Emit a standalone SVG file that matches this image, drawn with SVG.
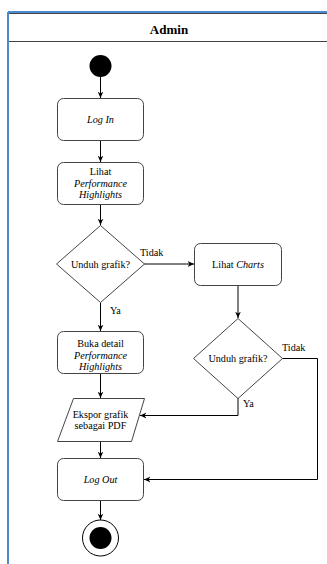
<svg xmlns="http://www.w3.org/2000/svg" width="327" height="564" viewBox="0 0 327 564">
  <defs>
    <marker id="arrow" viewBox="0 0 10 10" refX="9" refY="5" markerWidth="7" markerHeight="7" orient="auto" markerUnits="userSpaceOnUse">
      <path d="M0,1 L9,5 L0,9 L2.5,5 Z" fill="#000"/>
    </marker>
  </defs>
  <style>
    .it { font-style: italic; }
    .box { fill: #fff; stroke: #444; stroke-width: 1; }
    .edge { fill: none; stroke: #000; stroke-width: 1; marker-end: url(#arrow); }
  </style>
  <rect x="0" y="0" width="327" height="564" fill="#fff"/>

  <g font-family="Liberation Serif, Times New Roman, serif" font-size="10.2" fill="#000">
  <!-- swimlane -->
  <g id="lane">
    <rect x="8.5" y="13.5" width="330" height="560" fill="none" stroke="#444" stroke-width="1"/>
    <path d="M8,12 H327 M8,12 V564" fill="none" stroke="#4a8bd0" stroke-width="2"/>
    <line x1="9" y1="41.5" x2="327" y2="41.5" stroke="#444" stroke-width="1"/>
    <text x="169" y="34" text-anchor="middle" font-weight="bold" font-size="13">Admin</text>
  </g>

  <!-- connectors -->
  <g id="connectors">
    <path class="edge" d="M100.5,77 V98"/>
    <path class="edge" d="M100.5,140 V162"/>
    <path class="edge" d="M100.5,204 V225"/>
    <path class="edge" d="M144,264 H194"/>
    <path class="edge" d="M100.5,303 V331"/>
    <path class="edge" d="M238,285 V318"/>
    <path class="edge" d="M100.5,373 V398"/>
    <path class="edge" d="M238,398 V415.5 H140"/>
    <path class="edge" d="M282,358.5 H317.5 V479.5 H144"/>
    <path class="edge" d="M100.5,441 V458"/>
    <path class="edge" d="M100.5,500 V520"/>
    <text x="140" y="256">Tidak</text>
    <text x="110" y="314">Ya</text>
    <text x="282" y="351">Tidak</text>
    <text x="243" y="407">Ya</text>
  </g>

  <g id="start">
    <circle cx="100.5" cy="66" r="11" fill="#000"/>
  </g>

  <g id="login">
    <rect class="box" x="57.5" y="98.5" width="86" height="42" rx="6"/>
    <text class="it" x="100.5" y="123" text-anchor="middle">Log In</text>
  </g>

  <g id="lihat-highlights">
    <rect class="box" x="57.5" y="162.5" width="86" height="42" rx="6"/>
    <text x="100.5" y="175" text-anchor="middle">Lihat</text>
    <text class="it" x="100.5" y="186.5" text-anchor="middle">Performance</text>
    <text class="it" x="100.5" y="198" text-anchor="middle">Highlights</text>
  </g>

  <g id="decision1">
    <polygon class="box" points="100.5,225.5 144.5,264 100.5,302.5 56.5,264"/>
    <text x="100.5" y="268" text-anchor="middle">Unduh grafik?</text>
  </g>

  <g id="lihat-charts">
    <rect class="box" x="194.5" y="243.5" width="87" height="42" rx="6"/>
    <text x="238" y="268" text-anchor="middle">Lihat <tspan class="it">Charts</tspan></text>
  </g>

  <g id="decision2">
    <polygon class="box" points="238,318.5 282.5,358.5 238,398.5 193.5,358.5"/>
    <text x="238" y="362" text-anchor="middle">Unduh grafik?</text>
  </g>

  <g id="buka-detail">
    <rect class="box" x="57.5" y="331.5" width="86" height="42" rx="6"/>
    <text x="100.5" y="347" text-anchor="middle">Buka detail</text>
    <text class="it" x="100.5" y="358.5" text-anchor="middle">Performance</text>
    <text class="it" x="100.5" y="370" text-anchor="middle">Highlights</text>
  </g>

  <g id="ekspor">
    <polygon class="box" points="73.5,398.5 144.5,398.5 131.5,441.5 57.5,441.5"/>
    <text x="100.5" y="417.5" text-anchor="middle">Ekspor grafik</text>
    <text x="100.5" y="429" text-anchor="middle">sebagai PDF</text>
  </g>

  <g id="logout">
    <rect class="box" x="57.5" y="458.5" width="86" height="42" rx="6"/>
    <text class="it" x="100.5" y="483" text-anchor="middle">Log Out</text>
  </g>

  <g id="end">
    <circle cx="100.5" cy="538" r="18" fill="#fff" stroke="#000" stroke-width="1"/>
    <circle cx="100.5" cy="538" r="11" fill="#000"/>
  </g>
  </g>
</svg>
